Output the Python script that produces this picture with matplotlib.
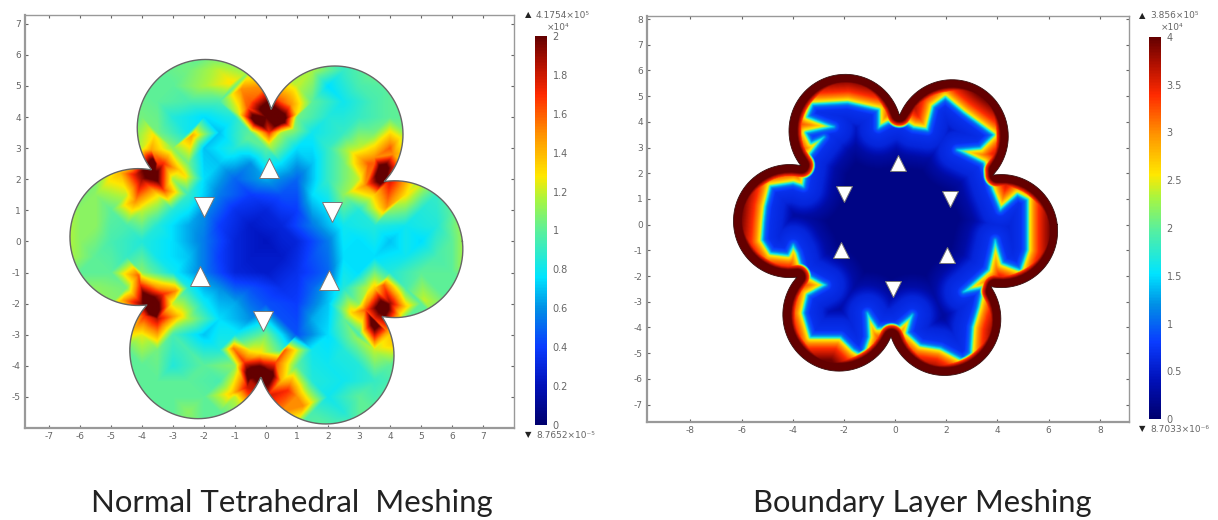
import numpy as np
import matplotlib
matplotlib.use("Agg")
import matplotlib.pyplot as plt
from matplotlib.colors import LinearSegmentedColormap
from matplotlib.path import Path
from matplotlib.tri import Triangulation, LinearTriInterpolator

plt.rcParams["axes.unicode_minus"] = False

# -------------------------------
# DATA
# -------------------------------

# six lobes of the cross section
lobe_x = [-1.95, 2.22, 4.15, 1.93, -2.19, -4.12]
lobe_y = [3.65, 3.44, -0.25, -3.67, -3.5, 0.14]
lobe_r = [2.2, 2.2, 2.2, 2.2, 2.2, 2.2]

# left field: coarse table, rows y = 6..-6, columns x = -6..6
grid_axis = [-6, -5, -4, -3, -2, -1, 0, 1, 2, 3, 4, 5, 6]
left_table = [
    [1, 1, 1, 1, 1, 1, 1, 1, 1, 1, 1, 1, 1],
    [1, 1, 1, 1, 1.15, 1.05, 1.5, 1.2, .75, .95, 1, 1, 1],
    [1, 1, 1.05, .85, .75, .85, 2, 1.05, .85, .9, 1, 1, 1],
    [1, 1, 1.2, 1.1, .7, .85, 1.0, .75, .9, 1.2, 1.6, 1, 1],
    [1, 1.3, 1.9, 1.15, .75, .5, .65, .5, .9, 1.2, 1.8, 1.1, 1],
    [1.1, 1.0, 1.2, .85, .6, .35, .3, .4, .75, .85, 1.1, .85, 1],
    [1.1, .95, .85, .75, .55, .3, .22, .3, .55, .75, .7, .75, 1],
    [1, 1, 1.1, .8, .55, .3, .25, .35, .5, .75, .85, 1, 1],
    [1, 1.1, 1.95, 1.2, .8, .65, .45, .4, .7, 1.1, 1.9, 1, 1],
    [1, 1, 1.25, .95, .7, .8, 1.05, .45, .75, .95, 1.35, 1, 1],
    [1, 1, 1, .85, 1, 1.1, 1.85, 1, .8, .85, 1, 1, 1],
    [1, 1, 1, 1, 1, 1.2, 1.8, 1.5, .8, 1, 1, 1, 1],
    [1, 1, 1, 1, 1, 1, 1, 1, 1, 1, 1, 1, 1],
]

# second table on the half steps, rows y = 6.5..-6.5, columns x = -6.5..6.5
half_axis = [-6.5, -5.5, -4.5, -3.5, -2.5, -1.5, -0.5, 0.5, 1.5, 2.5, 3.5, 4.5, 5.5, 6.5]
half_table = [
    [1, 1, 1, 1, 1, 1, 1, 1, 1, 1, 1, 1, 1, 1],
    [1, 1, 1, 1, 1.05, 1.2, 1.1, 1.1, 1.15, .9, 1.05, 1, 1, 1],
    [1, 1, 1, 1, .95, .95, 1.6, 1.6, 1, .8, .95, 1, 1, 1],
    [1, 1, 1, 1.05, .8, .7, 1, 1.15, .8, .9, 1.05, 1.1, 1, 1],
    [1, 1, 1.15, 1.7, 1.05, .7, .6, .75, .7, 1.05, 1.6, 1.2, 1, 1],
    [1, 1.1, 1.2, 1.3, .9, .55, .4, .45, .75, 1.1, 1.35, 1, .9, 1],
    [1.2, 1.1, .95, .85, .65, .4, .25, .3, .55, .8, .85, .8, .85, 1.2],
    [1.2, 1, .9, .8, .7, .4, .25, .25, .45, .75, .75, .8, .95, 1.2],
    [1, 1.1, 1.05, 1.5, .85, .6, .45, .35, .5, .85, 1.35, .95, 1, 1],
    [1, 1, 1.1, 1.85, 1.15, .75, .6, .45, .65, 1, 1.7, 1, 1, 1],
    [1, 1, 1, 1.05, .95, .85, 1.25, .95, .8, .85, 1.2, 1, 1, 1],
    [1, 1, 1, 1, 1, .95, 1.85, 1.4, .85, .8, .9, 1, 1, 1],
    [1, 1, 1, 1, 1.1, 1, 1.3, 1.5, .95, .85, 1, 1, 1, 1],
    [1, 1, 1, 1, 1, 1, 1, 1, 1, 1, 1, 1, 1, 1],
]

# left field: extra samples around the six cusps
spot_x = [0.1, -0.3, 0.5, 0.1, 0.1, -0.6, -0.8, -1.1, -0.9, 0.8, 1.0, 0.9, -0.6,
          -3.6, -3.6, -3.3, -4.2, -4.7, -3.3, -2.8, -2.6, -3.7, -4.2, -4.0, -3.6, -2.4,
          3.75, 3.8, 3.3, 3.2, 4.1, 3.5, 4.4, 4.5, 3.9, 2.7, 5.1,
          3.8, 3.5, 3.8, 3.2, 2.8, 3.9, 4.1, 4.5, 5.1, 3.3, 2.9,
          -3.9, -3.6, -4.1, -2.9, -2.8, -4.6, -3.3, -4.05, -3.9, -4.3,
          -0.2, -0.55, 0.2, -1.05, 0.6, -0.7, 0.3, -0.2, -0.2, 0.7, 1.2, -1.1, -0.6]
spot_y = [4.2, 3.9, 3.9, 3.5, 3.1, 4.3, 4.9, 5.1, 4.1, 4.4, 4.1, 3.6, 3.3,
          2.5, 2.1, 2.5, 2.15, 2.2, 1.65, 2.3, 2.1, 2.95, 1.3, 1.1, 3.4, 3.4,
          2.3, 2.0, 2.5, 1.8, 2.8, 2.7, 1.9, 1.5, 1.1, 2.9, 1.9,
          -2.1, -2.6, -1.4, -2.2, -2.3, -2.9, -3.3, -2.1, -1.9, -1.5, -3.1,
          -1.9, -2.3, -1.1, -1.6, -2.4, -1.9, -1.7, -1.4, -2.4, -2.9,
          -4.2, -4.3, -4.3, -3.45, -3.5, -3.9, -3.9, -3.6, -3.1, -4.8, -5.3, -4.9, -4.7]
spot_v = [2.3, 2.3, 2.3, 1.7, 1.2, 1.6, 1.5, 1.3, 1.2, 1.5, 1.3, 1.1, 1.0,
          2.3, 2.2, 1.7, 1.8, 1.4, 1.65, 1.35, 1.3, 1.45, 1.5, 1.25, 1.3, 1.45,
          2.3, 2.3, 1.6, 1.5, 1.5, 1.5, 1.5, 1.3, 1.5, 1.2, 1.2,
          2.3, 2.3, 1.6, 1.6, 1.35, 1.5, 1.35, 1.35, 1.2, 1.2, 1.1,
          2.3, 2.3, 1.6, 1.5, 1.35, 1.45, 1.7, 1.7, 1.7, 1.35,
          2.3, 2.2, 2.1, 1.55, 1.6, 1.7, 1.65, 1.3, 1.05, 1.7, 1.5, 1.35, 1.8]

# right field: the cyan front traced round the lobes
front_x = [-1.87, -3.24, -3.44, -2.42, -3.5, -3.3, -2.8, -3.4, -3.6, -4.0, -4.88, -5.08, -5.15,
           -5.2, -4.88, -4.2, -4.0, -3.83, -3.6, -2.73, -3.44, -3.6, -3.32, -2.15, -1.64, -1.29,
           -1.05, -1.1, -0.7, 0.08, 0.66, 0.47, 0.98, 1.76, 2.66, 2.93, 3.0, 3.24, 3.4, 2.66,
           3.63, 3.9, 4.18, 4.88, 5.15, 5.15, 5.15, 4.77, 4.1, 3.78, 3.44, 2.42, 3.32, 3.83,
           2.66, 1.95, 1.48, 1.25, 0.7, 0.2, -0.3, -0.66, -0.66]
front_y = [4.73, 4.66, 4.19, 3.8, 3.57, 3.18, 3.4, 2.64, 1.47, 1.6, 1.47, 0.69, 0.06,
           -0.6, -1.1, -1.18, -0.8, -1.1, -1.88, -2.35, -2.74, -3.44, -4.37, -4.37, -4.87, -5.07,
           -4.37, -3.44, -4.02, -3.98, -3.51, -4.21, -4.68, -4.8, -5.27, -5.0, -3.98, -3.2, -2.47, -2.62,
           -1.76, -0.6, -1.5, -1.76, -0.98, -0.2, 0.96, 1.16, 0.57, 1.35, 2.4, 2.9, 2.98, 3.49,
           4.34, 4.93, 4.58, 3.68, 3.76, 4.07, 3.95, 3.76, 4.46]

# right field: value against distance from the front and from the wall
inner_dist = [0, 0.1, 0.25, 0.7, 1.1, 1.6]
inner_val = [1.4, 0.95, 0.7, 0.6, 0.3, 0.14]
outer_dist = [0, 0.1, 0.25, 0.45, 0.9]
outer_val = [1.4, 2.5, 3.0, 3.4, 3.95]
wall_dist = [0, 0.3, 0.45, 0.6]
wall_val = [4, 4, 3.3, 0]

# white triangles
left_up_x = [0.1, -2.13, 2.03]
left_up_y = [2.35, -1.1, -1.25]
left_down_x = [-2.0, 2.13, -0.1]
left_down_y = [1.1, 0.95, -2.55]
right_up_x = [0.1, -2.1, 2.03]
right_up_y = [2.4, -1.0, -1.2]
right_down_x = [-2.0, 2.14, -0.08]
right_down_y = [1.2, 1.0, -2.5]

left_xticks = [-7, -6, -5, -4, -3, -2, -1, 0, 1, 2, 3, 4, 5, 6, 7]
left_yticks = [-5, -4, -3, -2, -1, 0, 1, 2, 3, 4, 5, 6, 7]
right_xticks = [-8, -6, -4, -2, 0, 2, 4, 6, 8]
right_yticks = [-7, -6, -5, -4, -3, -2, -1, 0, 1, 2, 3, 4, 5, 6, 7, 8]
left_cbar_ticks = [0, 0.2, 0.4, 0.6, 0.8, 1, 1.2, 1.4, 1.6, 1.8, 2]
left_cbar_labels = ["0", "0.2", "0.4", "0.6", "0.8", "1", "1.2", "1.4", "1.6", "1.8", "2"]
right_cbar_ticks = [0, 0.5, 1, 1.5, 2, 2.5, 3, 3.5, 4]
right_cbar_labels = ["0", "0.5", "1", "1.5", "2", "2.5", "3", "3.5", "4"]

# -------------------------------
# HELPERS
# -------------------------------

W, H = 1218, 520
GRAY = "#666666"

cmap = LinearSegmentedColormap.from_list("rainbow_fem", [
    (0.0, "#00006e"), (0.1, "#0010b8"), (0.2, "#0a3cff"), (0.3, "#0090e6"),
    (0.38, "#00e4ff"), (0.5, "#5cf09a"), (0.58, "#a8f540"), (0.64, "#ffe800"),
    (0.75, "#ff9000"), (0.85, "#ff2a00"), (0.93, "#b01000"), (1.0, "#640000")])


def px_axes(left, top, right, bottom):
    return fig.add_axes([left / W, 1 - bottom / H, (right - left) / W, (bottom - top) / H])


def flower():
    # outer outline: furthest circle hit along each ray from the centre
    th = np.linspace(0, 2 * np.pi, 1441)
    cx, cy, r = np.array(lobe_x), np.array(lobe_y), np.array(lobe_r)
    d = np.hypot(cx, cy)
    a = np.arctan2(cy, cx)
    rad = np.zeros_like(th)
    for i in range(6):
        disc = r[i] ** 2 - (d[i] * np.sin(th - a[i])) ** 2
        hit = d[i] * np.cos(th - a[i]) + np.sqrt(np.clip(disc, 0, None))
        rad = np.where(disc >= 0, np.maximum(rad, hit), rad)
    return rad * np.cos(th), rad * np.sin(th)


def seg_dist(px, py, sx, sy):
    # smallest distance from grid points to a closed polyline
    best = np.full(px.shape, np.inf)
    x2, y2 = np.roll(sx, -1), np.roll(sy, -1)
    for a, b, c, e in zip(sx, sy, x2, y2):
        dx, dy = c - a, e - b
        t = np.clip(((px - a) * dx + (py - b) * dy) / max(dx * dx + dy * dy, 1e-9), 0, 1)
        best = np.minimum(best, np.hypot(px - a - t * dx, py - b - t * dy))
    return best


def style_axes(ax, xlim, ylim, xticks, yticks):
    ax.set_xlim(xlim)
    ax.set_ylim(ylim)
    ax.set_xticks(xticks)
    ax.set_yticks(yticks)
    ax.tick_params(direction="in", top=True, right=True, length=2, width=0.8,
                   color="#666666", labelcolor=GRAY, labelsize=6.5, pad=3)
    for name, sp in ax.spines.items():
        sp.set_color("#999999")
        sp.set_linewidth(1.6 if name in ("left", "bottom") else 1.0)


def add_cbar(mesh, left, top, right, bottom, ticks, labels):
    cax = px_axes(left, top, right, bottom)
    cb = fig.colorbar(mesh, cax=cax)
    cb.set_ticks(ticks)
    cb.set_ticklabels(labels)
    cb.outline.set_visible(False)
    cax.tick_params(direction="in", length=0, labelcolor=GRAY, labelsize=7, pad=4)


def triangles(ax, ux, uy, dx, dy, size):
    ax.plot(ux, uy, "^", ms=size, mfc="white", mec="#777777", mew=0.7, ls="none", zorder=5)
    ax.plot(dx, dy, "v", ms=size, mfc="white", mec="#777777", mew=0.7, ls="none", zorder=5)


fig = plt.figure(figsize=(W / 100, H / 100), dpi=100)
out_x, out_y = flower()
outline = Path(np.column_stack([out_x, out_y]))
xs = np.linspace(-6.5, 6.5, 520)
ys = np.linspace(-6.5, 6.5, 520)
mx, my = np.meshgrid(xs, ys)

# -------------------------------
# LEFT PANEL
# -------------------------------

ax1 = px_axes(25, 15, 514, 428)
gx, gy = np.meshgrid(grid_axis, grid_axis[::-1])
hx, hy = np.meshgrid(half_axis, half_axis[::-1])
pts_x = np.concatenate([gx.ravel(), hx.ravel(), spot_x])
pts_y = np.concatenate([gy.ravel(), hy.ravel(), spot_y])
pts_v = np.concatenate([np.array(left_table, dtype=float).ravel(),
                        np.array(half_table, dtype=float).ravel(), spot_v])
# values are interpolated over the mesh, then coloured, so halos go through the full rainbow
tri_field = LinearTriInterpolator(Triangulation(pts_x, pts_y), pts_v)(mx, my)
mesh1 = ax1.imshow(tri_field, origin="lower", extent=(xs[0], xs[-1], ys[0], ys[-1]),
                   cmap=cmap, vmin=0, vmax=2, aspect="auto", interpolation="bilinear")
mesh1.set_clip_path(outline, ax1.transData)
ax1.plot(out_x, out_y, color="#666666", lw=1.0)
triangles(ax1, left_up_x, left_up_y, left_down_x, left_down_y, 14)
style_axes(ax1, (-7.77, 8.0), (-6.0, 7.28), left_xticks, left_yticks)
add_cbar(mesh1, 535, 36, 547, 425, left_cbar_ticks, left_cbar_labels)

# -------------------------------
# RIGHT PANEL
# -------------------------------

ax2 = px_axes(647, 16, 1129, 422)
front_dist = seg_dist(mx, my, np.array(front_x), np.array(front_y))
wall = seg_dist(mx, my, out_x[::8], out_y[::8])
inside = Path(np.column_stack([front_x, front_y])).contains_points(
    np.column_stack([mx.ravel(), my.ravel()])).reshape(mx.shape)
field = np.where(inside, np.interp(front_dist, inner_dist, inner_val),
                 np.interp(front_dist, outer_dist, outer_val))
field = np.maximum(field, np.interp(wall, wall_dist, wall_val))
mesh2 = ax2.imshow(field, origin="lower", extent=(xs[0], xs[-1], ys[0], ys[-1]),
                   cmap=cmap, vmin=0, vmax=4, aspect="auto", interpolation="bilinear")
mesh2.set_clip_path(outline, ax2.transData)
ax2.plot(out_x, out_y, color="#3a1010", lw=0.6)
triangles(ax2, right_up_x, right_up_y, right_down_x, right_down_y, 12)
style_axes(ax2, (-9.7, 9.14), (-7.68, 8.12), right_xticks, right_yticks)
add_cbar(mesh2, 1149, 37, 1161, 419, right_cbar_ticks, right_cbar_labels)

# -------------------------------
# TEXT
# -------------------------------

fig.text(525 / W, 1 - 15 / H, "▲", color="#222222", fontsize=6, va="center")
fig.text(536 / W, 1 - 15 / H, "4.1754×10⁵", color=GRAY, fontsize=6.5, va="center")
fig.text(547 / W, 1 - 27 / H, "×10⁴", color=GRAY, fontsize=6.5, va="center", ha="left")
fig.text(525 / W, 1 - 435 / H, "▼", color="#222222", fontsize=6, va="center")
fig.text(536 / W, 1 - 435 / H, "8.7652×10⁻⁵", color=GRAY, fontsize=6.5, va="center")

fig.text(1139 / W, 1 - 16 / H, "▲", color="#222222", fontsize=6, va="center")
fig.text(1150 / W, 1 - 16 / H, "3.856×10⁵", color=GRAY, fontsize=6.5, va="center")
fig.text(1161 / W, 1 - 28 / H, "×10⁴", color=GRAY, fontsize=6.5, va="center", ha="left")
fig.text(1139 / W, 1 - 429 / H, "▼", color="#222222", fontsize=6, va="center")
fig.text(1150 / W, 1 - 429 / H, "8.7033×10⁻⁶", color=GRAY, fontsize=6.5, va="center")

fig.text(292 / W, 1 - 503 / H, "Normal Tetrahedral  Meshing", family="Lato", fontsize=22.4,
         color="#222222", ha="center", va="center")
fig.text(922 / W, 1 - 503 / H, "Boundary Layer Meshing", family="Lato", fontsize=22.2,
         color="#222222", ha="center", va="center")

fig.savefig("out.png", dpi=100)
